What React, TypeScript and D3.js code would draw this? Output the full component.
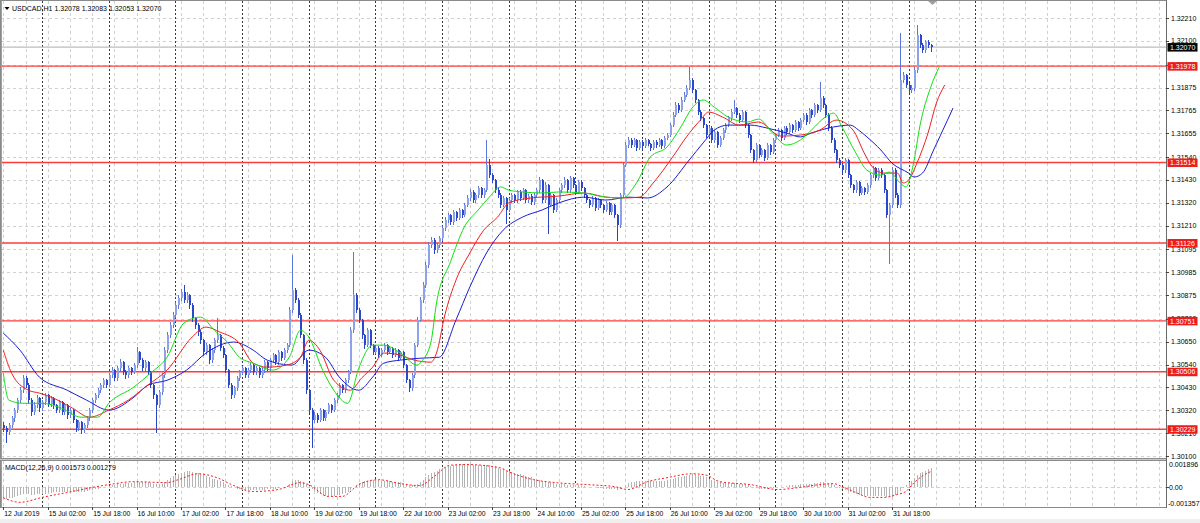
import React from "react";
import * as d3 from "d3";

const W = 1200;
const H = 523;

const symbolHeader = "USDCAD,H1  1.32078 1.32083 1.32053 1.32070";
const macdHeader = "MACD(12,26,9) 0.001573 0.001279";

const priceTicks = [1.3221, 1.321, 1.31985, 1.31875, 1.31765, 1.31655, 1.3154, 1.3143, 1.3132, 1.3121, 1.31095, 1.30985, 1.30875, 1.3076, 1.3065, 1.3054, 1.3043, 1.3032, 1.3021, 1.301];
const levelLines = [1.31978, 1.31514, 1.31126, 1.30751, 1.30506, 1.30229];
const currentPrice = 1.3207;

const timeLabels = ["12 Jul 2019", "15 Jul 02:00", "15 Jul 18:00", "16 Jul 10:00", "17 Jul 02:00", "17 Jul 18:00", "18 Jul 10:00", "19 Jul 02:00", "19 Jul 18:00", "22 Jul 10:00", "23 Jul 02:00", "23 Jul 18:00", "24 Jul 10:00", "25 Jul 02:00", "25 Jul 18:00", "26 Jul 10:00", "29 Jul 02:00", "29 Jul 18:00", "30 Jul 10:00", "31 Jul 02:00", "31 Jul 18:00"];
const timeLabelBars = [0, 16, 32, 48, 64, 80, 96, 112, 128, 144, 160, 176, 192, 208, 224, 240, 256, 272, 288, 304, 320];
const daySeparatorBars = [14, 38, 62, 86, 110, 134, 158, 182, 206, 230, 254, 278, 302, 326, 350];

const opens = [
1.30250,1.30234,1.30215,1.30248,1.30282,1.30321,1.30369,1.30417,1.30475,1.30441,
1.30369,1.30311,1.30345,1.30379,1.30330,1.30359,1.30393,1.30350,1.30379,1.30345,
1.30321,1.30359,1.30311,1.30345,1.30297,1.30321,1.30273,1.30234,1.30263,1.30224,
1.30248,1.30282,1.30321,1.30369,1.30393,1.30417,1.30441,1.30465,1.30441,1.30489,
1.30514,1.30475,1.30523,1.30552,1.30504,1.30489,1.30523,1.30504,1.30538,1.30600,
1.30562,1.30523,1.30552,1.30504,1.30441,1.30393,1.30345,1.30408,1.30489,1.30610,
1.30682,1.30730,1.30779,1.30827,1.30861,1.30890,1.30851,1.30875,1.30827,1.30764,
1.30730,1.30697,1.30658,1.30600,1.30634,1.30562,1.30610,1.30658,1.30682,1.30620,
1.30586,1.30514,1.30441,1.30393,1.30427,1.30475,1.30504,1.30523,1.30489,1.30514,
1.30538,1.30504,1.30523,1.30489,1.30514,1.30552,1.30523,1.30562,1.30586,1.30552,
1.30600,1.30571,1.30610,1.30634,1.30803,1.30899,1.30851,1.30779,1.30682,1.30562,
1.30417,1.30321,1.30273,1.30297,1.30273,1.30321,1.30282,1.30311,1.30345,1.30321,
1.30369,1.30393,1.30441,1.30417,1.30465,1.30504,1.30706,1.30875,1.30803,1.30755,
1.30682,1.30634,1.30706,1.30634,1.30600,1.30620,1.30586,1.30610,1.30634,1.30600,
1.30620,1.30586,1.30610,1.30571,1.30600,1.30538,1.30465,1.30427,1.30489,1.30634,
1.30755,1.30851,1.30923,1.31020,1.31116,1.31140,1.31092,1.31116,1.31150,1.31198,
1.31237,1.31261,1.31227,1.31275,1.31246,1.31285,1.31261,1.31309,1.31343,1.31372,
1.31333,1.31357,1.31391,1.31357,1.31381,1.31502,1.31453,1.31429,1.31381,1.31357,
1.31309,1.31343,1.31285,1.31333,1.31357,1.31333,1.31372,1.31343,1.31381,1.31333,
1.31352,1.31323,1.31357,1.31381,1.31429,1.31333,1.31405,1.31309,1.31357,1.31285,
1.31333,1.31381,1.31405,1.31429,1.31381,1.31439,1.31405,1.31372,1.31420,1.31391,
1.31357,1.31333,1.31309,1.31343,1.31294,1.31333,1.31309,1.31285,1.31318,1.31275,
1.31309,1.31261,1.31212,1.31357,1.31502,1.31598,1.31622,1.31598,1.31622,1.31584,
1.31613,1.31593,1.31622,1.31603,1.31584,1.31613,1.31598,1.31622,1.31593,1.31632,
1.31646,1.31694,1.31743,1.31791,1.31767,1.31815,1.31839,1.31873,1.31911,1.31863,
1.31815,1.31757,1.31728,1.31694,1.31646,1.31680,1.31622,1.31661,1.31598,1.31632,
1.31670,1.31694,1.31728,1.31757,1.31776,1.31743,1.31719,1.31757,1.31694,1.31646,
1.31574,1.31526,1.31598,1.31550,1.31574,1.31535,1.31598,1.31564,1.31622,1.31646,
1.31670,1.31632,1.31680,1.31661,1.31694,1.31670,1.31709,1.31680,1.31719,1.31743,
1.31709,1.31767,1.31743,1.31791,1.31767,1.31825,1.31791,1.31743,1.31680,1.31622,
1.31574,1.31526,1.31502,1.31478,1.31526,1.31453,1.31405,1.31381,1.31420,1.31367,
1.31391,1.31372,1.31405,1.31453,1.31487,1.31439,1.31478,1.31453,1.31381,1.31261,
1.31309,1.31478,1.31357,1.31309,1.31911,1.31935,1.31887,1.31863,1.31873,1.31960,
1.32128,1.32080,1.32056,1.32095,1.32078
];

const closes = [
1.30234,1.30215,1.30248,1.30282,1.30321,1.30369,1.30417,1.30475,1.30441,1.30369,
1.30311,1.30345,1.30379,1.30330,1.30359,1.30393,1.30350,1.30379,1.30345,1.30321,
1.30359,1.30311,1.30345,1.30297,1.30321,1.30273,1.30234,1.30263,1.30224,1.30248,
1.30282,1.30321,1.30369,1.30393,1.30417,1.30441,1.30465,1.30441,1.30489,1.30514,
1.30475,1.30523,1.30552,1.30504,1.30489,1.30523,1.30504,1.30538,1.30600,1.30562,
1.30523,1.30552,1.30504,1.30441,1.30393,1.30345,1.30408,1.30489,1.30610,1.30682,
1.30730,1.30779,1.30827,1.30861,1.30890,1.30851,1.30875,1.30827,1.30764,1.30730,
1.30697,1.30658,1.30600,1.30634,1.30562,1.30610,1.30658,1.30682,1.30620,1.30586,
1.30514,1.30441,1.30393,1.30427,1.30475,1.30504,1.30523,1.30489,1.30514,1.30538,
1.30504,1.30523,1.30489,1.30514,1.30552,1.30523,1.30562,1.30586,1.30552,1.30600,
1.30571,1.30610,1.30634,1.30803,1.30899,1.30851,1.30779,1.30682,1.30562,1.30417,
1.30321,1.30273,1.30297,1.30273,1.30321,1.30282,1.30311,1.30345,1.30321,1.30369,
1.30393,1.30441,1.30417,1.30465,1.30504,1.30706,1.30875,1.30803,1.30755,1.30682,
1.30634,1.30706,1.30634,1.30600,1.30620,1.30586,1.30610,1.30634,1.30600,1.30620,
1.30586,1.30610,1.30571,1.30600,1.30538,1.30465,1.30427,1.30489,1.30634,1.30755,
1.30851,1.30923,1.31020,1.31116,1.31140,1.31092,1.31116,1.31150,1.31198,1.31237,
1.31261,1.31227,1.31275,1.31246,1.31285,1.31261,1.31309,1.31343,1.31372,1.31333,
1.31357,1.31391,1.31357,1.31381,1.31502,1.31453,1.31429,1.31381,1.31357,1.31309,
1.31343,1.31285,1.31333,1.31357,1.31333,1.31372,1.31343,1.31381,1.31333,1.31352,
1.31323,1.31357,1.31381,1.31429,1.31333,1.31405,1.31309,1.31357,1.31285,1.31333,
1.31381,1.31405,1.31429,1.31381,1.31439,1.31405,1.31372,1.31420,1.31391,1.31357,
1.31333,1.31309,1.31343,1.31294,1.31333,1.31309,1.31285,1.31318,1.31275,1.31309,
1.31261,1.31212,1.31357,1.31502,1.31598,1.31622,1.31598,1.31622,1.31584,1.31613,
1.31593,1.31622,1.31603,1.31584,1.31613,1.31598,1.31622,1.31593,1.31632,1.31646,
1.31694,1.31743,1.31791,1.31767,1.31815,1.31839,1.31873,1.31911,1.31863,1.31815,
1.31757,1.31728,1.31694,1.31646,1.31680,1.31622,1.31661,1.31598,1.31632,1.31670,
1.31694,1.31728,1.31757,1.31776,1.31743,1.31719,1.31757,1.31694,1.31646,1.31574,
1.31526,1.31598,1.31550,1.31574,1.31535,1.31598,1.31564,1.31622,1.31646,1.31670,
1.31632,1.31680,1.31661,1.31694,1.31670,1.31709,1.31680,1.31719,1.31743,1.31709,
1.31767,1.31743,1.31791,1.31767,1.31825,1.31791,1.31743,1.31680,1.31622,1.31574,
1.31526,1.31502,1.31478,1.31526,1.31453,1.31405,1.31381,1.31420,1.31367,1.31391,
1.31372,1.31405,1.31453,1.31487,1.31439,1.31478,1.31453,1.31381,1.31261,1.31309,
1.31478,1.31357,1.31309,1.31911,1.31935,1.31887,1.31863,1.31873,1.31960,1.32128,
1.32080,1.32056,1.32095,1.32078,1.32070
];

const highs = [
1.30262,1.30245,1.30260,1.30295,1.30330,1.30380,1.30430,1.30492,1.30485,1.30450,
1.30378,1.30358,1.30392,1.30386,1.30372,1.30405,1.30400,1.30390,1.30385,1.30352,
1.30368,1.30365,1.30356,1.30350,1.30332,1.30328,1.30280,1.30275,1.30270,1.30258,
1.30292,1.30330,1.30378,1.30405,1.30428,1.30452,1.30478,1.30472,1.30500,1.30528,
1.30520,1.30535,1.30566,1.30560,1.30512,1.30532,1.30530,1.30550,1.30624,1.30608,
1.30570,1.30562,1.30558,1.30510,1.30448,1.30400,1.30418,1.30500,1.30625,1.30695,
1.30745,1.30792,1.30840,1.30875,1.30905,1.30923,1.30890,1.30882,1.30835,1.30772,
1.30740,1.30705,1.30665,1.30645,1.30640,1.30620,1.30670,1.30764,1.30690,1.30628,
1.30592,1.30520,1.30450,1.30438,1.30485,1.30515,1.30535,1.30530,1.30525,1.30548,
1.30545,1.30532,1.30528,1.30522,1.30562,1.30558,1.30572,1.30598,1.30592,1.30612,
1.30608,1.30620,1.30645,1.30820,1.31068,1.30910,1.30860,1.30788,1.30690,1.30570,
1.30425,1.30330,1.30310,1.30305,1.30332,1.30328,1.30322,1.30355,1.30352,1.30380,
1.30405,1.30452,1.30448,1.30476,1.30515,1.30722,1.31082,1.30885,1.30812,1.30762,
1.30690,1.30718,1.30712,1.30640,1.30632,1.30628,1.30620,1.30644,1.30640,1.30630,
1.30626,1.30618,1.30616,1.30608,1.30606,1.30545,1.30472,1.30498,1.30645,1.30770,
1.30865,1.30938,1.31035,1.31130,1.31155,1.31150,1.31128,1.31162,1.31210,1.31250,
1.31272,1.31268,1.31286,1.31282,1.31296,1.31292,1.31320,1.31355,1.31385,1.31380,
1.31368,1.31402,1.31398,1.31392,1.31622,1.31530,1.31462,1.31436,1.31390,1.31365,
1.31352,1.31350,1.31342,1.31368,1.31364,1.31382,1.31380,1.31392,1.31388,1.31362,
1.31360,1.31366,1.31392,1.31442,1.31436,1.31418,1.31412,1.31368,1.31362,1.31344,
1.31392,1.31416,1.31442,1.31436,1.31450,1.31446,1.31412,1.31430,1.31428,1.31398,
1.31364,1.31340,1.31352,1.31350,1.31342,1.31340,1.31316,1.31328,1.31324,1.31318,
1.31316,1.31268,1.31368,1.31515,1.31612,1.31635,1.31630,1.31632,1.31628,1.31622,
1.31620,1.31630,1.31628,1.31610,1.31622,1.31620,1.31630,1.31628,1.31642,1.31656,
1.31706,1.31755,1.31805,1.31800,1.31828,1.31852,1.31886,1.31974,1.31920,1.31870,
1.31822,1.31765,1.31735,1.31700,1.31690,1.31688,1.31672,1.31668,1.31642,1.31680,
1.31705,1.31740,1.31770,1.31815,1.31782,1.31750,1.31766,1.31764,1.31700,1.31652,
1.31580,1.31608,1.31604,1.31584,1.31580,1.31608,1.31604,1.31632,1.31656,1.31680,
1.31676,1.31690,1.31688,1.31703,1.31700,1.31718,1.31715,1.31728,1.31752,1.31750,
1.31778,1.31774,1.31802,1.31798,1.31902,1.31832,1.31798,1.31750,1.31688,1.31630,
1.31580,1.31534,1.31510,1.31535,1.31532,1.31460,1.31412,1.31428,1.31426,1.31400,
1.31398,1.31414,1.31462,1.31498,1.31494,1.31488,1.31485,1.31460,1.31388,1.31320,
1.31490,1.31486,1.31365,1.32138,1.31950,1.31942,1.31895,1.31885,1.31972,1.32176,
1.32135,1.32088,1.32105,1.32102,1.32083
];

const lows = [
1.30222,1.30167,1.30205,1.30240,1.30270,1.30312,1.30360,1.30410,1.30430,1.30355,
1.30298,1.30300,1.30336,1.30318,1.30322,1.30350,1.30340,1.30342,1.30333,1.30310,
1.30314,1.30300,1.30304,1.30285,1.30290,1.30262,1.30220,1.30226,1.30212,1.30215,
1.30240,1.30275,1.30314,1.30360,1.30385,1.30410,1.30432,1.30430,1.30435,1.30480,
1.30465,1.30468,1.30515,1.30495,1.30478,1.30482,1.30494,1.30498,1.30530,1.30552,
1.30512,1.30515,1.30495,1.30430,1.30380,1.30215,1.30335,1.30400,1.30480,1.30600,
1.30672,1.30720,1.30770,1.30815,1.30850,1.30840,1.30842,1.30815,1.30752,1.30718,
1.30685,1.30645,1.30588,1.30592,1.30550,1.30555,1.30602,1.30650,1.30610,1.30575,
1.30505,1.30430,1.30380,1.30385,1.30420,1.30468,1.30495,1.30480,1.30482,1.30506,
1.30495,1.30497,1.30480,1.30482,1.30506,1.30515,1.30516,1.30555,1.30545,1.30545,
1.30562,1.30565,1.30602,1.30628,1.30795,1.30840,1.30770,1.30672,1.30550,1.30405,
1.30310,1.30142,1.30265,1.30262,1.30268,1.30272,1.30275,1.30305,1.30312,1.30315,
1.30362,1.30386,1.30408,1.30410,1.30458,1.30498,1.30698,1.30792,1.30745,1.30670,
1.30622,1.30628,1.30625,1.30590,1.30594,1.30578,1.30580,1.30604,1.30592,1.30594,
1.30578,1.30580,1.30562,1.30565,1.30528,1.30455,1.30412,1.30420,1.30482,1.30628,
1.30748,1.30842,1.30915,1.31010,1.31105,1.31080,1.31085,1.31108,1.31140,1.31190,
1.31228,1.31218,1.31220,1.31238,1.31240,1.31252,1.31255,1.31302,1.31335,1.31325,
1.31326,1.31350,1.31348,1.31350,1.31375,1.31445,1.31420,1.31372,1.31348,1.31298,
1.31302,1.31222,1.31278,1.31326,1.31324,1.31326,1.31335,1.31336,1.31325,1.31326,
1.31314,1.31316,1.31350,1.31374,1.31325,1.31326,1.31174,1.31302,1.31276,1.31278,
1.31326,1.31374,1.31398,1.31372,1.31374,1.31396,1.31364,1.31365,1.31382,1.31348,
1.31324,1.31300,1.31302,1.31285,1.31288,1.31300,1.31276,1.31278,1.31266,1.31268,
1.31250,1.31140,1.31205,1.31350,1.31495,1.31590,1.31590,1.31592,1.31576,1.31578,
1.31585,1.31587,1.31596,1.31576,1.31578,1.31590,1.31592,1.31586,1.31588,1.31625,
1.31640,1.31688,1.31736,1.31758,1.31760,1.31808,1.31832,1.31866,1.31855,1.31806,
1.31748,1.31718,1.31685,1.31636,1.31640,1.31612,1.31615,1.31588,1.31592,1.31625,
1.31662,1.31688,1.31720,1.31750,1.31735,1.31710,1.31712,1.31685,1.31636,1.31565,
1.31515,1.31520,1.31542,1.31543,1.31526,1.31530,1.31556,1.31558,1.31615,1.31640,
1.31624,1.31626,1.31652,1.31655,1.31662,1.31664,1.31672,1.31674,1.31712,1.31700,
1.31702,1.31735,1.31736,1.31758,1.31760,1.31782,1.31734,1.31670,1.31612,1.31565,
1.31516,1.31492,1.31468,1.31470,1.31444,1.31396,1.31372,1.31374,1.31358,1.31360,
1.31364,1.31366,1.31398,1.31446,1.31430,1.31432,1.31445,1.31372,1.31250,1.31029,
1.31300,1.31348,1.31298,1.31300,1.31900,1.31878,1.31852,1.31855,1.31865,1.31952,
1.32070,1.32045,1.32048,1.32068,1.32053
];

// Alligator lines (bar index incl. forward shift, value)
const jawBars = [0,6,13,23,30,38,47,52,59,66,73,83,90,95,104,110,116,121,128,133,137,143,150,157,163,168,174,180,187,194,200,209,217,225,232,239,247,252,256,261,269,275,282,287,291,299,305,308,311,316,320,326,328,331,335,340,342];
const jawValues = [1.30692,1.30610,1.30480,1.30417,1.30369,1.30321,1.30383,1.30441,1.30465,1.30514,1.30596,1.30649,1.30610,1.30562,1.30538,1.30610,1.30576,1.30480,1.30417,1.30480,1.30547,1.30562,1.30571,1.30576,1.30755,1.30914,1.31078,1.31188,1.31251,1.31285,1.31319,1.31347,1.31333,1.31347,1.31343,1.31396,1.31526,1.31608,1.31670,1.31694,1.31694,1.31680,1.31656,1.31637,1.31656,1.31685,1.31694,1.31670,1.31637,1.31574,1.31511,1.31463,1.31444,1.31463,1.31574,1.31718,1.31776];

const teethBars = [0,3,9,13,18,25,31,38,45,52,59,68,73,78,85,90,95,102,107,110,114,119,125,129,133,137,143,148,154,156,159,163,168,173,178,182,190,200,209,217,223,229,234,241,246,251,254,259,265,272,280,287,294,300,306,310,313,317,322,324,326,329,333,336,339];
const teethValues = [1.30610,1.30499,1.30417,1.30403,1.30379,1.30330,1.30287,1.30321,1.30369,1.30441,1.30514,1.30673,1.30721,1.30697,1.30644,1.30547,1.30528,1.30538,1.30576,1.30658,1.30610,1.30465,1.30417,1.30475,1.30528,1.30596,1.30586,1.30562,1.30552,1.30596,1.30779,1.30947,1.31078,1.31188,1.31251,1.31319,1.31343,1.31352,1.31367,1.31347,1.31343,1.31347,1.31415,1.31540,1.31637,1.31718,1.31757,1.31733,1.31694,1.31709,1.31641,1.31646,1.31670,1.31718,1.31670,1.31560,1.31492,1.31463,1.31463,1.31415,1.31429,1.31511,1.31656,1.31800,1.31887];

const lipsBars = [0,2,7,14,21,28,34,38,47,53,59,65,71,76,81,85,90,97,103,107,110,115,119,124,128,133,137,143,149,151,154,156,161,166,171,175,179,182,187,194,200,209,217,223,228,233,239,244,248,252,256,261,268,272,277,282,287,291,296,299,302,307,311,316,319,323,325,328,330,334,337];
const lipsValues = [1.30499,1.30369,1.30354,1.30354,1.30330,1.30287,1.30287,1.30354,1.30432,1.30499,1.30576,1.30740,1.30769,1.30706,1.30644,1.30576,1.30547,1.30514,1.30576,1.30706,1.30673,1.30514,1.30417,1.30354,1.30523,1.30634,1.30634,1.30596,1.30538,1.30562,1.30649,1.30837,1.31034,1.31203,1.31285,1.31347,1.31396,1.31381,1.31372,1.31367,1.31372,1.31367,1.31347,1.31343,1.31415,1.31540,1.31588,1.31685,1.31776,1.31815,1.31781,1.31733,1.31709,1.31723,1.31656,1.31598,1.31622,1.31670,1.31733,1.31752,1.31685,1.31560,1.31477,1.31453,1.31468,1.31415,1.31396,1.31526,1.31685,1.31878,1.31974];

const macdMain = [
-0.00090,-0.00092,-0.00090,-0.00086,-0.00080,-0.00074,-0.00066,-0.00058,
-0.00056,-0.00058,-0.00060,-0.00060,-0.00058,-0.00058,-0.00055,-0.00052,
-0.00050,-0.00046,-0.00042,-0.00040,-0.00037,-0.00036,-0.00035,-0.00035,-0.00035,
-0.00038,-0.00040,-0.00040,-0.00040,-0.00036,-0.00030,-0.00025,
-0.00020,-0.00015,-0.00010,-0.00005,0.00000,0.00005,0.00010,
0.00015,0.00020,0.00025,0.00030,0.00030,0.00035,0.00035,0.00035,0.00040,0.00045,0.00045,0.00045,0.00045,0.00040,0.00035,0.00030,0.00025,
0.00025,0.00030,0.00045,0.00060,0.00075,0.00090,0.00100,0.00110,0.00120,0.00125,0.00130,0.00130,0.00125,0.00120,0.00115,
0.00110,0.00100,0.00090,0.00080,0.00070,0.00065,0.00060,0.00050,0.00040,0.00030,0.00020,
0.00010,0.00000,-0.00010,-0.00015,-0.00020,-0.00020,-0.00025,-0.00025,-0.00025,-0.00025,-0.00020,-0.00020,-0.00020,-0.00015,-0.00015,-0.00010,-0.00010,-0.00005,0.00000,0.00000,
0.00010,0.00030,0.00050,0.00060,0.00060,0.00055,0.00045,0.00030,0.00010,
-0.00010,-0.00030,-0.00045,-0.00055,-0.00065,-0.00070,-0.00070,-0.00070,-0.00070,-0.00065,-0.00060,-0.00055,-0.00050,-0.00040,
-0.00020,0.00000,0.00020,0.00035,0.00045,0.00050,0.00055,0.00060,0.00060,0.00060,0.00060,0.00055,0.00055,0.00050,0.00050,0.00045,0.00045,0.00040,0.00040,
0.00035,0.00025,0.00015,0.00015,0.00020,0.00030,0.00045,
0.00060,0.00080,0.00100,0.00115,0.00125,0.00135,0.00145,0.00155,0.00165,0.00170,0.00175,0.00180,
0.00185,0.00189,0.00189,0.00189,0.00189,0.00188,0.00185,0.00185,0.00185,0.00180,0.00180,
0.00185,0.00180,0.00175,0.00170,0.00160,0.00150,0.00145,0.00135,0.00130,0.00125,0.00120,
0.00110,0.00105,0.00100,0.00090,0.00085,0.00080,0.00070,0.00065,0.00060,0.00055,0.00050,0.00045,0.00040,0.00035,0.00030,
0.00030,0.00025,0.00025,0.00020,0.00020,0.00020,0.00015,0.00015,0.00010,0.00010,0.00005,0.00005,0.00000,0.00000,-0.00005,-0.00005,-0.00010,-0.00010,-0.00010,-0.00015,-0.00015,-0.00020,
-0.00010,0.00005,0.00020,0.00035,0.00040,0.00045,0.00050,0.00050,0.00055,0.00055,0.00055,
0.00055,0.00055,0.00055,0.00055,0.00055,0.00055,0.00060,0.00065,0.00070,0.00075,0.00080,0.00085,0.00090,0.00095,0.00100,
0.00105,0.00105,0.00100,0.00095,0.00090,0.00080,
0.00070,0.00060,0.00050,0.00045,0.00040,0.00035,0.00035,0.00035,0.00035,0.00035,0.00035,0.00030,
0.00030,0.00025,0.00020,0.00010,0.00000,-0.00005,-0.00010,-0.00010,-0.00010,-0.00010,-0.00005,-0.00005,0.00000,0.00000,0.00005,0.00005,0.00010,0.00015,0.00015,0.00020,0.00020,0.00025,
0.00025,0.00030,0.00030,0.00030,0.00035,0.00035,0.00040,0.00040,0.00035,0.00030,0.00025,0.00015,0.00005,
-0.00005,-0.00015,-0.00025,-0.00030,-0.00040,-0.00050,-0.00055,-0.00060,-0.00065,-0.00070,-0.00070,-0.00070,-0.00070,-0.00070,-0.00070,-0.00070,-0.00070,-0.00075,-0.00080,-0.00075,-0.00065,
-0.00065,-0.00030,-0.00005,0.00020,0.00040,0.00055,0.00075,0.00100,0.00115,0.00125,0.00135,0.00145,0.001573
];

const signalBars = [0,6,14,23,38,47,59,63,70,77,83,90,99,107,110,117,122,128,135,143,150,155,161,167,179,182,191,199,210,220,225,232,239,248,253,258,269,279,287,294,299,302,307,312,317,322,325,328,333,334];
const signalValues = [-0.00085,-0.00122,-0.00082,-0.00042,0.00022,0.00046,0.00038,0.00062,0.0011,0.00078,0.00014,-0.00034,-0.00018,0.00038,0.00022,-0.00074,-0.00074,0.00022,0.00062,0.0003,0.00014,0.00086,0.0018,0.00185,0.00158,0.00126,0.00062,0.00038,0.00022,0.00006,-0.00018,0.00046,0.00078,0.0011,0.001,0.00046,0.00022,-0.00018,0,0.00022,0.0003,0.00006,-0.00042,-0.00082,-0.00082,-0.00058,-0.00034,0.00038,0.00118,0.001279];

const macdTop = 0.001896;
const macdBottom = -0.001357;

const FONT = "'Liberation Sans', Arial, sans-serif";

export default function App() {
  const lastBar = closes.length - 1;
  const x = d3.scaleLinear().domain([0, lastBar]).range([3.3, 3.3 + lastBar * 2.777]);
  const y = d3.scaleLinear().domain([1.301, 1.3221]).range([456, 18]);
  const ym = d3.scaleLinear().domain([macdBottom, macdTop]).range([504, 464]);

  const plotL = 1;
  const plotR = 1166;
  const mainT = 1;
  const mainB = 458;
  const macdT = 461;
  const macdB = 507;

  const gridBars = d3.range(0, 420, 8).filter((i) => x(i) < plotR);
  const px = (v: number) => Math.round(v) + 0.5;

  const line = d3
    .line<[number, number]>()
    .x((d) => x(d[0]))
    .y((d) => y(d[1]))
    .curve(d3.curveMonotoneX);
  const sigLine = d3
    .line<[number, number]>()
    .x((d) => x(d[0]))
    .y((d) => ym(d[1]))
    .curve(d3.curveMonotoneX);

  const jawPath = line(jawBars.map((b, k) => [b, jawValues[k]] as [number, number])) || "";
  const teethPath = line(teethBars.map((b, k) => [b, teethValues[k]] as [number, number])) || "";
  const lipsPath = line(lipsBars.map((b, k) => [b, lipsValues[k]] as [number, number])) || "";
  const signalPath = sigLine(signalBars.map((b, k) => [b, signalValues[k]] as [number, number])) || "";

  const fmt = (v: number) => v.toFixed(5);

  return (
    <svg
      width={W}
      height={H}
      style={{ position: "fixed", left: 0, top: 0, background: "#fff" }}
      fontFamily={FONT}
    >
      <defs>
        <clipPath id="mainClip">
          <rect x={plotL + 1} y={mainT + 1} width={plotR - plotL - 1} height={mainB - mainT - 1} />
        </clipPath>
        <clipPath id="macdClip">
          <rect x={plotL + 1} y={macdT} width={plotR - plotL - 1} height={macdB - macdT} />
        </clipPath>
      </defs>
      <rect x={0} y={0} width={W} height={H} fill="#fff" />
      <rect x={0} y={519} width={W} height={4} fill="#efefef" />

      {/* grid */}
      <g shapeRendering="crispEdges">
        {priceTicks.map((v) => (
          <line key={"hg" + v} x1={plotL} x2={plotR} y1={px(y(v))} y2={px(y(v))} stroke="#d0d0d0" strokeDasharray="3,3" />
        ))}
        <line x1={plotL} x2={plotR} y1={px(ym(0))} y2={px(ym(0))} stroke="#d0d0d0" strokeDasharray="3,3" />
        {gridBars.map((i) => (
          <g key={"vg" + i}>
            <line x1={px(x(i))} x2={px(x(i))} y1={mainT} y2={mainB} stroke="#d0d0d0" strokeDasharray="3,3" />
            <line x1={px(x(i))} x2={px(x(i))} y1={macdT} y2={macdB} stroke="#d0d0d0" strokeDasharray="3,3" />
          </g>
        ))}
        {daySeparatorBars.map((i) => (
          <g key={"ds" + i}>
            <line x1={px(x(i))} x2={px(x(i))} y1={mainT} y2={mainB} stroke="#3a3a3a" strokeDasharray="2,2" />
            <line x1={px(x(i))} x2={px(x(i))} y1={macdT} y2={macdB} stroke="#3a3a3a" strokeDasharray="2,2" />
          </g>
        ))}
      </g>

      {/* current price line and horizontal levels */}
      <line x1={plotL} x2={plotR} y1={y(currentPrice)} y2={y(currentPrice)} stroke="#bcbcbc" strokeWidth={1.2} />
      {levelLines.map((v) => (
        <line key={"lv" + v} x1={plotL} x2={plotR} y1={y(v)} y2={y(v)} stroke="#ff3b3b" strokeWidth={1.4} />
      ))}

      {/* candles */}
      <g clipPath="url(#mainClip)">
        <g shapeRendering="crispEdges">
          {closes.map((c, i) => {
            const o = opens[i];
            const xi = Math.round(x(i));
            const bull = c >= o;
            const yt = Math.round(y(Math.max(o, c)));
            const yb = Math.round(y(Math.min(o, c)));
            return (
              <g key={"c" + i}>
                <line x1={xi + 0.5} x2={xi + 0.5} y1={Math.round(y(highs[i]))} y2={Math.round(y(lows[i])) + 1} stroke={bull ? "#5c76de" : "#2a46c6"} />
                <rect x={xi} y={yt} width={2} height={Math.max(1, yb - yt)} fill={bull ? "#8ea2ea" : "#2c48ca"} />
              </g>
            );
          })}
        </g>
        <path d={jawPath} fill="none" stroke="#1c1cd0" strokeWidth={1} />
        <path d={teethPath} fill="none" stroke="#f02020" strokeWidth={1} />
        <path d={lipsPath} fill="none" stroke="#10e010" strokeWidth={1} />
      </g>

      {/* MACD */}
      <g clipPath="url(#macdClip)">
        <g shapeRendering="crispEdges">
          {macdMain.map((v, i) => (
            <line key={"m" + i} x1={px(x(i))} x2={px(x(i))} y1={ym(0)} y2={ym(v)} stroke="#b4b4b4" />
          ))}
        </g>
        <path d={signalPath} fill="none" stroke="#ff1a1a" strokeDasharray="2,2" strokeWidth={1} />
      </g>

      {/* frames */}
      <g shapeRendering="crispEdges">
        <rect x={0.5} y={0.5} width={plotR - 0.5} height={macdB} fill="none" stroke="#8a8a8a" />
        <line x1={1.5} x2={1.5} y1={1} y2={macdB} stroke="#a0a0a0" />
        <rect x={0} y={mainB} width={plotR + 0.5} height={3} fill="#8c8c8c" />
        <line x1={0} x2={plotR} y1={mainB + 1.5} y2={mainB + 1.5} stroke="#c8c8c8" />
        <line x1={plotR + 0.5} x2={plotR + 0.5} y1={0} y2={macdB + 0.5} stroke="#6a6a6a" />
      </g>

      {/* header */}
      <path d="M4.5,7 L9.5,7 L7,10 Z" fill="#000" />
      <text x={12} y={11} fontSize={7} fill="#000">{symbolHeader}</text>
      <text x={5} y={470} fontSize={7} fill="#000">{macdHeader}</text>
      <path d="M928,1 L937,1 L932.5,5 Z" fill="#a0a0a0" />

      {/* price axis */}
      {priceTicks.map((v) => (
        <g key={"pt" + v}>
          <line x1={plotR} x2={plotR + 3} y1={px(y(v))} y2={px(y(v))} stroke="#444" />
          <text x={plotR + 5} y={y(v) + 2.5} fontSize={7} fill="#000">{fmt(v)}</text>
        </g>
      ))}
      {levelLines.map((v) => (
        <g key={"ll" + v}>
          <rect x={plotR + 1.5} y={y(v) - 4} width={30} height={8.5} fill="#ee1c1c" />
          <text x={plotR + 4} y={y(v) + 2.7} fontSize={7} fill="#fff">{fmt(v)}</text>
        </g>
      ))}
      <rect x={plotR + 1.5} y={y(currentPrice) - 4} width={30} height={8.5} fill="#000" />
      <text x={plotR + 4} y={y(currentPrice) + 2.7} fontSize={7} fill="#fff">{fmt(currentPrice)}</text>

      {/* MACD axis */}
      <text x={plotR + 3} y={ym(macdTop) + 3} fontSize={7} fill="#000">{macdTop.toFixed(6)}</text>
      <text x={plotR + 3} y={ym(0) + 2.5} fontSize={7} fill="#000">0.00</text>
      <text x={plotR + 2} y={ym(macdBottom) + 2} fontSize={7} fill="#000">{macdBottom.toFixed(6)}</text>
      <line x1={plotR} x2={plotR + 3} y1={px(ym(0))} y2={px(ym(0))} stroke="#444" />

      {/* time axis */}
      {timeLabels.map((t, k) => (
        <g key={"tl" + k}>
          <line x1={px(x(timeLabelBars[k]))} x2={px(x(timeLabelBars[k]))} y1={macdB} y2={macdB + 3} stroke="#444" />
          <text x={x(timeLabelBars[k]) + 1} y={516} fontSize={6.8} fill="#000">{t}</text>
        </g>
      ))}
    </svg>
  );
}
